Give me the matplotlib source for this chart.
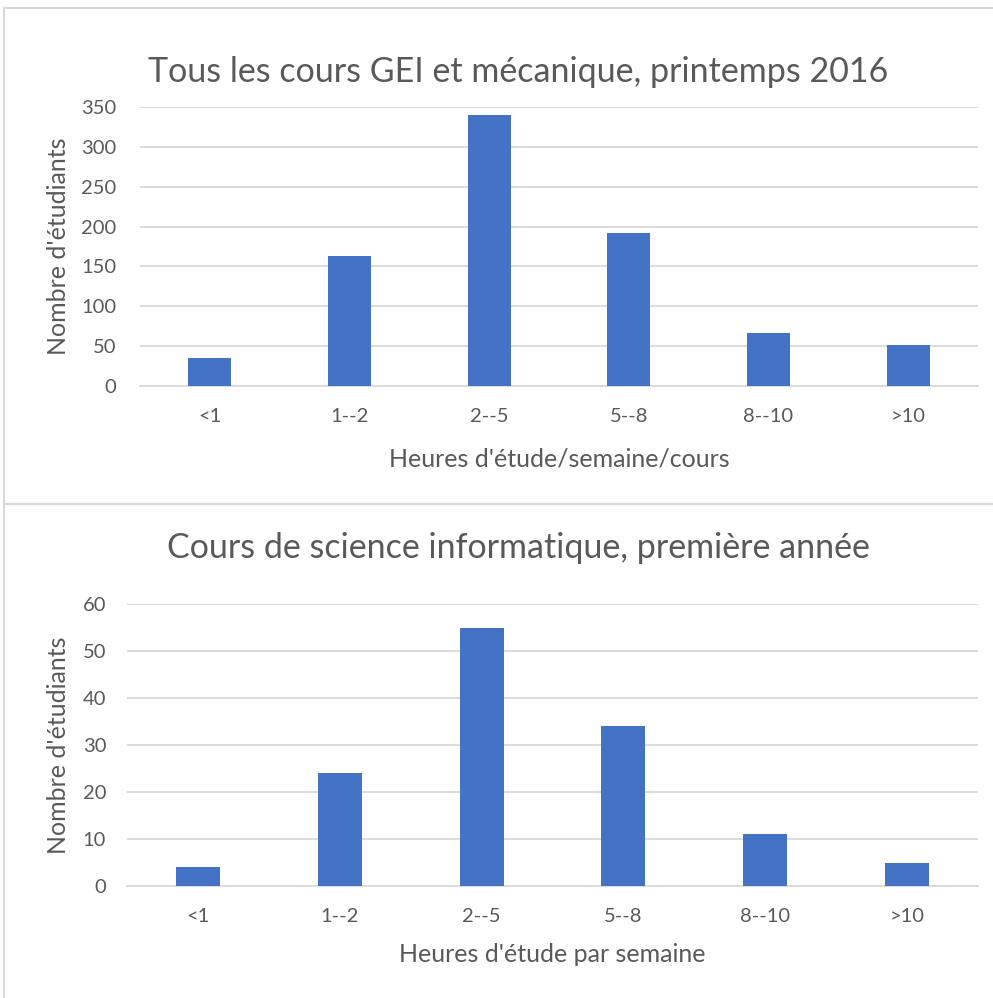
import matplotlib
matplotlib.use("Agg")
import matplotlib.pyplot as plt
from matplotlib.patches import Rectangle


categories = ["<1", "1--2", "2--5", "5--8", "8--10", ">10"]

values_top = [35, 163, 340, 192, 66, 52]
values_bottom = [4, 24, 55, 34, 11, 5]

title_top = "Tous les cours GEI et mécanique, printemps 2016"
title_bottom = "Cours de science informatique, première année"
xlabel_top = "Heures d'étude/semaine/cours"
xlabel_bottom = "Heures d'étude par semaine"
ylabel = "Nombre d'étudiants"

yticks_top = [0, 50, 100, 150, 200, 250, 300, 350]
yticks_bottom = [0, 10, 20, 30, 40, 50, 60]


BAR = "#4472C4"
TXT = "#595959"
GRID = "#d9d9d9"

plt.rcParams['font.family'] = ['Lato', 'DejaVu Sans']

W, H = 993, 998
fig = plt.figure(figsize=(W / 100, H / 100), dpi=100)


def px_axes(x0, y0, x1, y1):
    # pixel box (top-left origin) -> figure fraction axes
    return fig.add_axes([x0 / W, 1 - y1 / H, (x1 - x0) / W, (y1 - y0) / H])


def draw_chart(ax, values, yticks, title, xlabel, title_y, xlab_y, ylab_x, ypad):

    x = range(len(categories))
    ax.bar(x, values, width=0.31, color=BAR, zorder=3)

    ax.set_xlim(-0.5, len(categories) - 0.5)
    ax.set_ylim(yticks[0], yticks[-1])
    ax.set_yticks(yticks)
    ax.set_xticks(list(x))
    ax.set_xticklabels(categories)

    ax.grid(axis='y', color=GRID, lw=1.3, zorder=0)
    for s in ["top", "right", "left"]:
        ax.spines[s].set_visible(False)
    ax.spines["bottom"].set_color(GRID)
    ax.spines["bottom"].set_linewidth(1.3)
    ax.tick_params(length=0, labelsize=14.5, labelcolor=TXT)
    ax.tick_params(axis='x', pad=16)
    ax.tick_params(axis='y', pad=ypad)

    # title / labels placed in figure pixels like the excel layout
    bb = ax.get_position()
    cx = 0.5 * (bb.x0 + bb.x1) * W
    fig.text(518 / W, 1 - title_y / H, title, ha='center', va='center',
             fontsize=24.5, color=TXT)
    fig.text(cx / W, 1 - xlab_y / H, xlabel, ha='center', va='center',
             fontsize=18, color=TXT)
    fig.text(ylab_x / W, 0.5 * (bb.y0 + bb.y1), ylabel, ha='center',
             va='center', rotation=90, fontsize=18, color=TXT)


ax1 = px_axes(140, 107, 978, 386)
draw_chart(ax1, values_top, yticks_top, title_top, xlabel_top, 72, 459, 59, 17)

ax2 = px_axes(127, 604, 978, 886)
draw_chart(ax2, values_bottom, yticks_bottom, title_bottom, xlabel_bottom, 548, 955, 59, 15)

# chart frames
for (x0, y0, x1, y1) in [(4, 8, 1000, 504), (4, 504, 1000, 1002)]:
    fig.patches.append(Rectangle((x0 / W, 1 - y1 / H), (x1 - x0) / W, (y1 - y0) / H,
                                 transform=fig.transFigure, fill=False,
                                 edgecolor=GRID, lw=1.5))

fig.savefig("out.png", dpi=100)
